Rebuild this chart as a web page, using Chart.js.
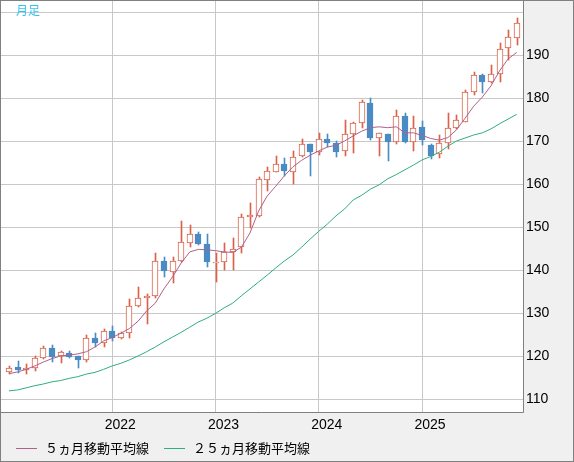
<!DOCTYPE html>
<html lang="ja">
<head>
<meta charset="utf-8">
<title>月足</title>
<script src="https://cdn.jsdelivr.net/npm/chart.js@4.4.1/dist/chart.umd.min.js"></script>
<style>
    html, body { margin: 0; padding: 0; background: #f0f0f0; }
    #wrap { width: 574px; height: 462px; position: relative; }
</style>
</head>
<body>
<div id="wrap"><canvas id="chart"></canvas></div>
<script>
// 月（2021年1月〜2025年12月）
const months = [];
for (let y = 2021; y <= 2025; y++) {
    for (let m = 1; m <= 12; m++) months.push(y + '-' + String(m).padStart(2, '0'));
}

// ローソク足（始値・高値・安値・終値）
const opens = [
    116.3, 117.4, 116.8, 117.1, 119.5, 121.8, 120.0, 120.8, 120.0, 119.1, 124.3, 123.0,
    125.9, 124.1, 125.3, 131.6, 133.4, 133.9, 142.1, 139.6, 142.1, 146.2, 148.3, 146.0,
    141.7, 141.9, 144.3, 145.4, 152.3, 152.6, 160.9, 162.9, 164.7, 162.9, 166.5, 169.3,
    167.5, 170.5, 169.5, 167.7, 171.6, 174.1, 178.8, 170.6, 171.6, 169.7, 175.7, 169.7,
    173.2, 169.1, 167.0, 169.5, 173.0, 174.5, 181.3, 185.3, 183.7, 185.5, 191.6, 193.9
];
const highs = [
    117.7, 118.8, 118.1, 120.0, 122.3, 122.6, 121.1, 121.2, 120.1, 124.9, 125.3, 126.2,
    127.0, 125.5, 133.3, 136.1, 134.4, 143.9, 143.1, 143.1, 151.4, 150.5, 148.9, 148.4,
    143.9, 146.2, 147.5, 153.0, 155.5, 161.6, 163.9, 166.5, 166.0, 167.7, 170.4, 169.4,
    171.8, 171.6, 170.1, 174.9, 174.5, 179.5, 179.9, 171.9, 171.7, 177.2, 176.4, 175.7,
    174.7, 169.4, 171.4, 176.4, 176.0, 181.9, 186.1, 185.6, 187.7, 192.9, 195.8, 198.5
];
const lows = [
    115.8, 116.1, 115.8, 116.6, 119.2, 118.7, 118.4, 119.5, 117.3, 118.7, 122.2, 122.2,
    123.5, 123.9, 124.1, 131.5, 127.4, 133.5, 138.4, 136.9, 141.9, 145.3, 145.9, 140.8,
    137.3, 140.0, 140.0, 144.0, 149.7, 152.4, 158.4, 162.7, 161.9, 159.9, 166.2, 161.9,
    166.7, 168.5, 166.3, 166.6, 167.3, 173.1, 170.2, 166.6, 165.3, 169.2, 169.6, 167.7,
    169.1, 165.9, 166.0, 168.1, 172.7, 174.4, 180.7, 181.2, 183.5, 183.8, 188.8, 192.3
];
const closes = [
    117.3, 116.8, 117.1, 119.5, 121.8, 119.8, 121.0, 119.8, 119.1, 124.3, 123.0, 125.9,
    124.1, 125.3, 131.6, 133.4, 133.9, 142.1, 139.8, 142.1, 146.6, 148.3, 146.0, 141.8,
    141.9, 144.3, 145.0, 152.3, 152.7, 161.1, 163.1, 164.7, 163.1, 166.3, 169.2, 167.4,
    170.4, 169.5, 167.5, 171.6, 174.1, 179.0, 170.6, 171.8, 169.7, 175.7, 169.7, 173.1,
    170.2, 166.5, 169.5, 173.0, 174.9, 181.3, 185.3, 183.7, 185.5, 191.3, 194.3, 197.5
];

// 移動平均線（チャートから読み取り）
const ma5 = [
    115.9, 116.3, 116.9, 117.7, 118.6, 119.4, 120.0, 120.2, 120.5, 121.0, 122.1, 123.5,
    124.3, 125.3, 126.4, 128.1, 130.5, 132.3, 135.6, 138.4, 141.6, 144.2, 144.8, 144.7,
    144.5, 144.2, 144.1, 145.3, 148.6, 153.7, 157.2, 159.5, 161.9, 164.0, 165.5, 166.7,
    167.7, 168.6, 169.0, 170.0, 171.2, 172.3, 173.1, 173.3, 173.1, 173.3, 171.9, 171.9,
    171.3, 170.6, 170.2, 170.8, 172.6, 175.3, 178.1, 180.2, 182.8, 186.3, 189.1, 190.6
];
const ma25 = [
    111.9, 112.1, 112.6, 113.1, 113.5, 114.0, 114.3, 114.8, 115.2, 115.8, 116.2, 116.9,
    117.7, 118.3, 119.1, 120.0, 121.0, 122.1, 123.3, 124.4, 125.5, 126.7, 127.9, 128.8,
    129.9, 131.2, 132.3, 134.0, 135.6, 137.2, 138.8, 140.5, 142.1, 143.5, 145.3, 147.2,
    149.0, 150.7, 152.6, 154.2, 156.3, 157.4, 158.8, 159.8, 161.2, 162.2, 163.3, 164.4,
    165.6, 166.4, 167.4, 168.8, 170.0, 170.7, 171.4, 171.9, 172.8, 174.0, 175.1, 176.2
];

// 目盛り
const yearLabels = ['2022', '2023', '2024', '2025'];
const priceTicks = [110, 120, 130, 140, 150, 160, 170, 180, 190, 200];
const priceLabels = ['110', '120', '130', '140', '150', '160', '170', '180', '190', ''];

const RED = '#d9634a';
const BLUE = '#4a8bc4';
const MA5_COLOR = '#b0608c';
const MA25_COLOR = '#2eb07a';
const GRID = '#c8c8c8';
const FRAME = '#808080';

const yearIdx = yearLabels.map(y => months.indexOf(y + '-01'));
const isUp = i => closes[i] >= opens[i];
const axisFont = { family: '"Liberation Sans", Arial, sans-serif', size: 14 };
const jpFont = '13px "Noto Sans CJK JP", sans-serif';

// ラベル分の余白を詰める
function noPadding(scale) {
    scale.paddingTop = 0;
    scale.paddingBottom = 0;
    scale.paddingLeft = 0;
    scale.paddingRight = 0;
}

// ローソク足をピクセルに合わせる（にじみ防止）
const snapPlugin = {
    id: 'snap',
    beforeDatasetsDraw(chart) {
        chart.data.datasets.forEach((d, i) => {
            if (d.type === 'line') return;
            const half = d.barThickness % 2 ? 0.5 : 0;
            chart.getDatasetMeta(i).data.forEach(el => {
                el.x = Math.round(el.x) + half;
                el.y = Math.round(el.y);
                el.base = Math.round(el.base);
                if (el.y === el.base) el.base += 1;
            });
        });
    }
};

// 背景・枠・タイトル・凡例
const framePlugin = {
    id: 'frame',
    beforeDraw(chart) {
        const { ctx, chartArea: a, width, height } = chart;
        ctx.save();
        ctx.fillStyle = '#f0f0f0';
        ctx.fillRect(0, 0, width, height);
        ctx.fillStyle = '#ffffff';
        ctx.fillRect(a.left, a.top, a.right - a.left, a.bottom - a.top);
        ctx.restore();
    },
    afterDraw(chart) {
        const { ctx, chartArea: a, width, height } = chart;
        ctx.save();
        ctx.strokeStyle = FRAME;
        ctx.lineWidth = 1;
        ctx.beginPath();
        ctx.moveTo(a.right + 0.5, 0);
        ctx.lineTo(a.right + 0.5, a.bottom + 0.5);
        ctx.lineTo(0, a.bottom + 0.5);
        ctx.stroke();
        ctx.strokeRect(0.5, 0.5, width - 1, height - 1);

        // タイトル
        ctx.fillStyle = '#33c3f0';
        ctx.font = '12px "Noto Sans CJK JP", sans-serif';
        ctx.textBaseline = 'middle';
        ctx.fillText('月足', 16, 10);

        // 凡例
        const items = chart.data.datasets.filter(d => d.type === 'line');
        const legendY = 448;
        let x = 16;
        ctx.font = jpFont;
        items.forEach(d => {
            ctx.strokeStyle = d.borderColor;
            ctx.beginPath();
            ctx.moveTo(x, legendY + 0.5);
            ctx.lineTo(x + 21, legendY + 0.5);
            ctx.stroke();
            ctx.fillStyle = '#000000';
            ctx.fillText(d.label, x + 29, legendY);
            x += 29 + ctx.measureText(d.label).width + 15;
        });
        ctx.restore();
    }
};

new Chart(document.getElementById('chart'), {
    type: 'bar',
    data: {
        datasets: [
            {
                type: 'line',
                label: '５ヵ月移動平均線',
                data: ma5.map((v, i) => ({ x: i, y: v })),
                borderColor: MA5_COLOR,
                borderWidth: 1,
                pointRadius: 0,
                tension: 0
            },
            {
                type: 'line',
                label: '２５ヵ月移動平均線',
                data: ma25.map((v, i) => ({ x: i, y: v })),
                borderColor: MA25_COLOR,
                borderWidth: 1,
                pointRadius: 0,
                tension: 0
            },
            {
                label: 'body',
                data: months.map((m, i) => ({ x: i, y: [opens[i], closes[i]] })),
                backgroundColor: months.map((m, i) => isUp(i) ? '#ffffff' : BLUE),
                borderColor: months.map((m, i) => isUp(i) ? RED : BLUE),
                borderWidth: 1,
                borderSkipped: false,
                barThickness: 6,
                grouped: false
            },
            {
                label: 'wick',
                data: months.map((m, i) => ({ x: i, y: [lows[i], highs[i]] })),
                backgroundColor: months.map((m, i) => isUp(i) ? RED : BLUE),
                borderWidth: 0,
                barThickness: 1,
                grouped: false
            }
        ]
    },
    options: {
        responsive: true,
        maintainAspectRatio: false,
        animation: false,
        layout: { padding: { left: 1, top: 1, right: 0, bottom: 0 } },
        plugins: {
            legend: { display: false },
            tooltip: { enabled: false }
        },
        scales: {
            x: {
                type: 'linear',
                min: -0.93,
                max: 59.73,
                offset: false,
                border: { display: false },
                grid: { color: GRID, drawTicks: false, offset: false },
                afterBuildTicks: scale => { scale.ticks = yearIdx.map(v => ({ value: v })); },
                afterFit: scale => { scale.height = 50; noPadding(scale); },
                ticks: {
                    color: '#000000',
                    font: axisFont,
                    padding: 5,
                    labelOffset: 8,
                    maxRotation: 0,
                    autoSkip: false,
                    callback: value => yearLabels[yearIdx.indexOf(value)]
                }
            },
            y: {
                position: 'right',
                min: 106.98,
                max: 202.56,
                border: { display: false },
                grid: { color: GRID, drawTicks: false },
                afterBuildTicks: scale => { scale.ticks = priceTicks.map(v => ({ value: v })); },
                afterFit: scale => { scale.width = 51; noPadding(scale); },
                ticks: {
                    color: '#000000',
                    font: axisFont,
                    padding: 3,
                    callback: value => priceLabels[priceTicks.indexOf(value)]
                }
            }
        }
    },
    plugins: [snapPlugin, framePlugin]
});
</script>
</body>
</html>
